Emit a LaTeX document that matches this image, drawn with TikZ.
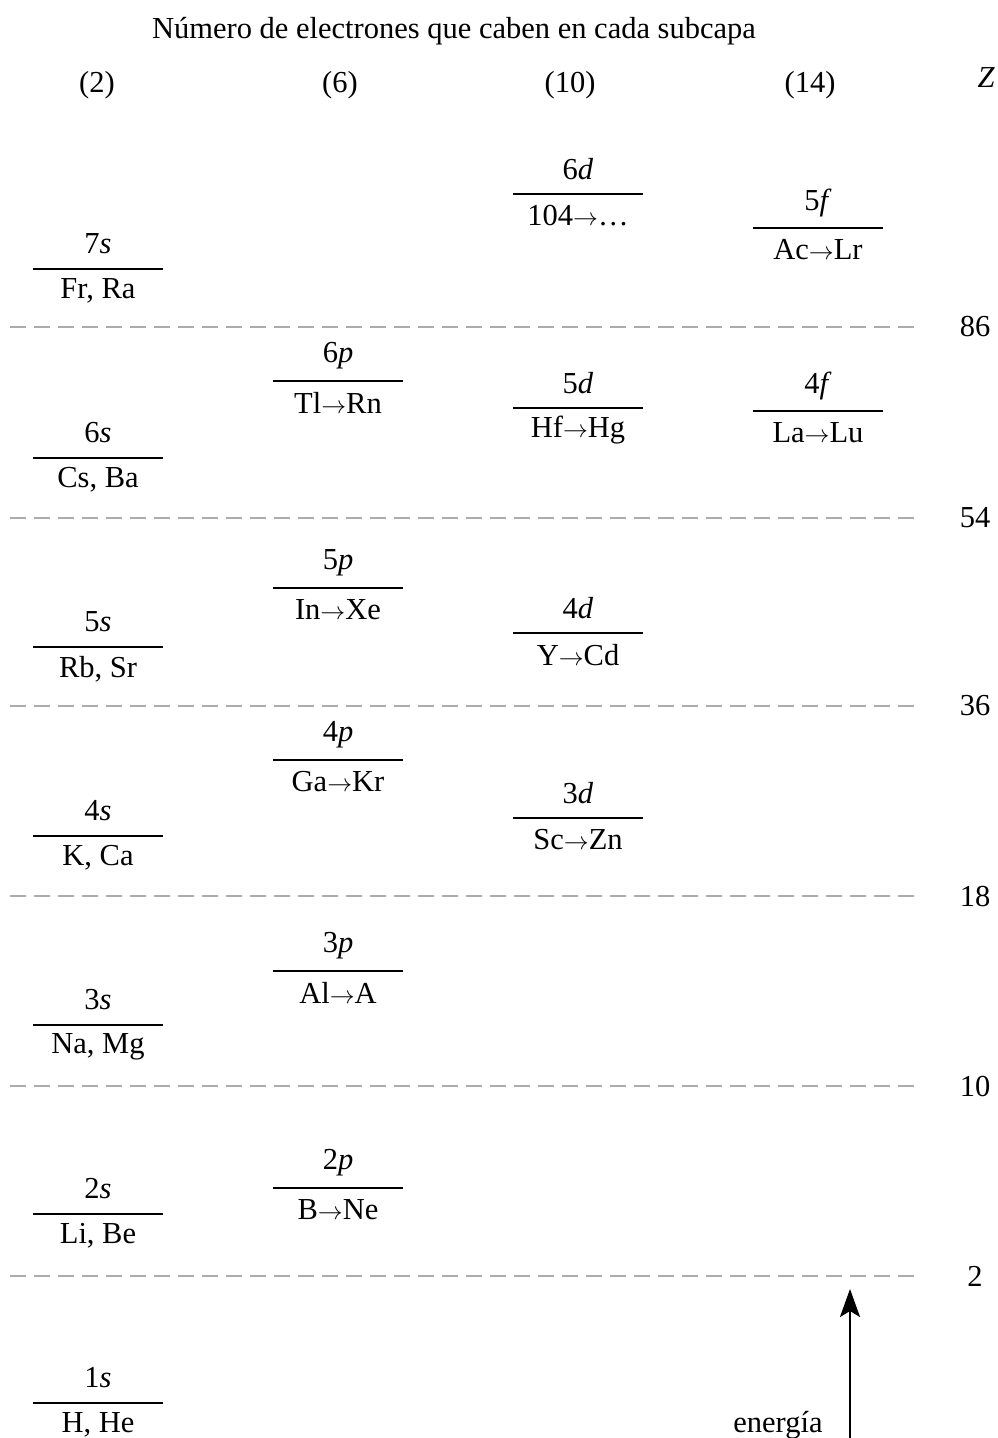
\documentclass[tikz,border=0pt]{standalone}
\usepackage{fontspec}
\setmainfont{Liberation Serif}
\usetikzlibrary{arrows.meta}
\tikzset{
  every node/.style={font=\fontsize{30.5}{33}\selectfont, inner sep=0pt},
  bar/.style={line width=2.4pt, black},
  sep/.style={line width=2pt, color=black!33, dash pattern=on 16pt off 8pt},
  lvltxt/.style={anchor=center},
}
\newcommand{\ar}{${\rightarrow}$}
\newcommand{\lvl}[5]{% name, x, y, top, bottom
  \coordinate (#1w) at (#2-65,#3);
  \coordinate (#1e) at (#2+65,#3);
  \draw[bar] (#1w) -- (#1e);
  \node[lvltxt] (#1t) at (#2,#3-25) {#4};
  \node[lvltxt] (#1b) at (#2,#3+22) {#5};
}
\newcommand{\sepline}[3]{% name, y, label
  \coordinate (#1a) at (10,#2);
  \coordinate (#1b) at (920,#2);
  \draw[sep] (#1a) -- (#1b);
  \node (#1l) at (975,#2) {#3};
}
\begin{document}
\begin{tikzpicture}[x=1pt,y=-1pt]
\useasboundingbox (0,0) rectangle (997,1438);
\node (title) at (454,31) {Número de electrones que caben en cada subcapa};
\node (h2) at (97,85) {(2)};
\node (h6) at (340,85) {(6)};
\node (h10) at (570,85) {(10)};
\node (h14) at (810,85) {(14)};
\node (hz) at (986,78) {\itshape Z};

\sepline{s86}{327}{86}
\sepline{s54}{518}{54}
\sepline{s36}{706}{36}
\sepline{s18}{896}{18}
\sepline{s10}{1086}{10}
\sepline{s2}{1276}{2}

\lvl{s7}{98}{269}{7\textit{s}}{Fr, Ra}
\lvl{s6}{98}{458}{6\textit{s}}{Cs, Ba}
\lvl{s5}{98}{647}{5\textit{s}}{Rb, Sr}
\lvl{s4}{98}{836}{4\textit{s}}{K, Ca}
\lvl{s3}{98}{1025}{3\textit{s}}{Na, Mg}
\lvl{s2x}{98}{1214}{2\textit{s}}{Li, Be}
\lvl{s1}{98}{1403}{1\textit{s}}{H, He}

\lvl{p6}{338}{381}{6\textit{p}}{Tl\ar Rn}
\lvl{p5}{338}{588}{5\textit{p}}{In\ar Xe}
\lvl{p4}{338}{760}{4\textit{p}}{Ga\ar Kr}
\lvl{p3}{338}{971}{3\textit{p}}{Al\ar A}
\lvl{p2}{338}{1188}{2\textit{p}}{B\ar Ne}

\lvl{d6}{578}{194}{6\textit{d}}{104\ar…}
\lvl{d5}{578}{408}{5\textit{d}}{Hf\ar Hg}
\lvl{d4}{578}{633}{4\textit{d}}{Y\ar Cd}
\lvl{d3}{578}{818}{3\textit{d}}{Sc\ar Zn}

\lvl{f5}{818}{228}{5\textit{f}}{Ac\ar Lr}
\lvl{f4}{818}{411}{4\textit{f}}{La\ar Lu}

\coordinate (ebot) at (850,1438);
\coordinate (etop) at (850,1289);
\draw[line width=2.4pt,-{Stealth[length=28pt,width=20pt,inset=6pt]}] (ebot) -- (etop);
\node (en) at (778,1425) {energía};
\end{tikzpicture}
\end{document}
